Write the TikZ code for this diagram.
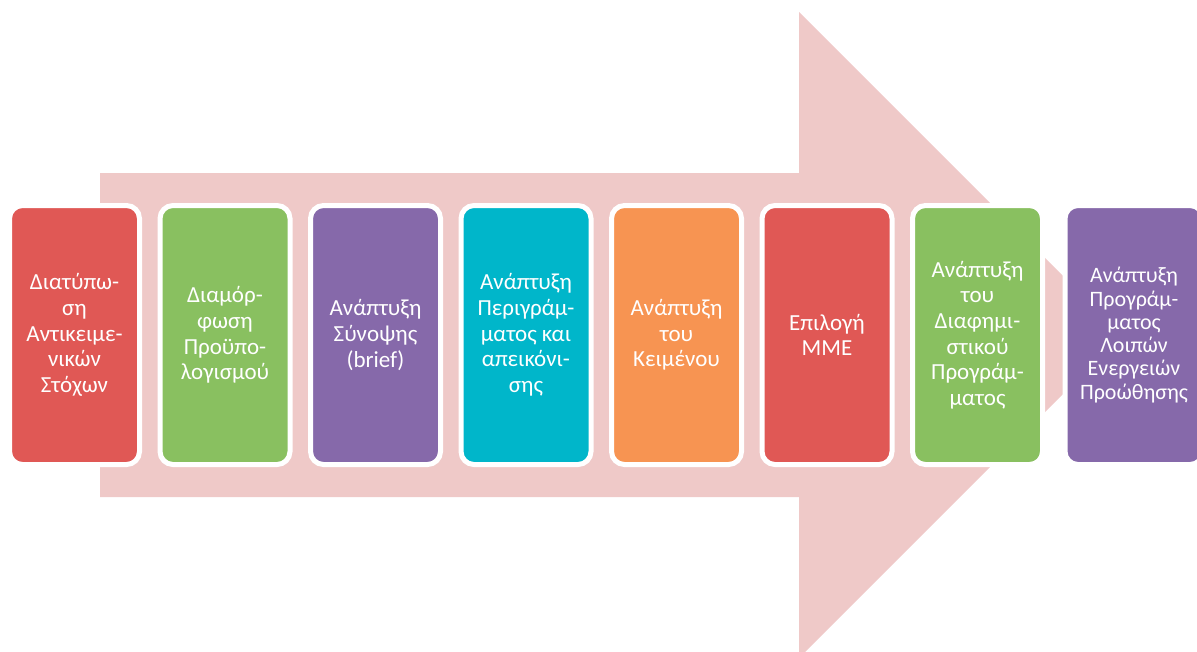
\documentclass[tikz,border=0pt]{standalone}
\usepackage{fontspec}
\setmainfont{Carlito}
\usepackage{tikz}
\usetikzlibrary{positioning}
\definecolor{color0}{RGB}{224,88,85}
\definecolor{color2}{RGB}{137,192,96}
\definecolor{color4}{RGB}{134,105,170}
\definecolor{color6}{RGB}{0,182,202}
\definecolor{color7}{RGB}{247,148,82}
\definecolor{arrowcolor}{RGB}{239,201,200}
\tikzstyle{phase}=[rectangle,rounded corners=13pt,draw=white,line width=5pt,minimum width=130pt,minimum height=259pt,inner sep=0pt,text=white,align=center,font=\fontsize{23}{25.7}\selectfont]

\begin{document}
\begin{tikzpicture}[x=1pt,y=-1pt]
\def\phasesep{150.5}
\def\midy{335}

	\useasboundingbox (0,0) rectangle (1197,651);
	\clip (0,0) rectangle (1197,651);

	% big arrow
	\fill[arrowcolor] (100,173) -- (799,173) -- (799,12) -- (1122,\midy) -- (799,658) -- (799,497) -- (100,497) -- cycle;

	% phases
    \foreach \name / \col / \txt in {1/color0/{Διατύπω-\\ση\\Αντικειμε-\\νικών\\Στόχων},
            2/color2/{Διαμόρ-\\φωση\\Προϋπο-\\λογισμού},
            3/color4/{Ανάπτυξη\\Σύνοψης\\(brief)},
            4/color6/{Ανάπτυξη\\Περιγράμ-\\ματος και\\απεικόνι-\\σης},
            5/color7/{Ανάπτυξη\\του\\Κειμένου},
            6/color0/{Επιλογή\\ΜΜΕ},
            7/color2/{Ανάπτυξη\\του\\Διαφημι-\\στικού\\Προγράμ-\\ματος}}
        \node[phase, fill=\col] (P-\name) at (74.5 + \phasesep*\name - \phasesep,\midy) {\txt};

    \node[phase, fill=color4, minimum width=138pt, font=\fontsize{22}{23.3}\selectfont] (P-8) at (1134,\midy) {Ανάπτυξη\\Προγράμ-\\ματος\\Λοιπών\\Ενεργειών\\Προώθησης};

\end{tikzpicture}
\end{document}
